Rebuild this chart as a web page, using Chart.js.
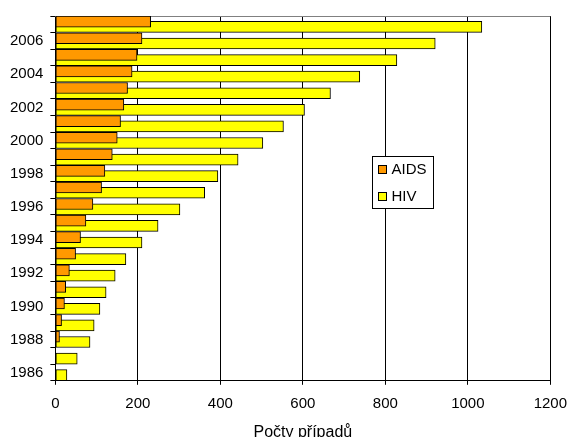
<!DOCTYPE html>
<html>
    <head>
        <title>AIDS / HIV</title>
        <script src="https://cdn.jsdelivr.net/npm/chart.js@4.4.1/dist/chart.umd.min.js"></script>
        <style>
            html, body { margin: 0; padding: 0; overflow: hidden; background: #fff; }
        </style>
    </head>
    <body>
        <!-- slightly bigger than the window: the last tick label and the title get cut like in the original -->
        <canvas id="bar" width="577" height="446"></canvas>
        <script>
        const years = [1986, 1987, 1988, 1989, 1990, 1991, 1992, 1993, 1994, 1995, 1996,
                       1997, 1998, 1999, 2000, 2001, 2002, 2003, 2004, 2005, 2006, 2007];
        const aids = [0, 0, 10, 15, 22, 25, 34, 49, 61, 74, 91,
                      112, 120, 138, 150, 158, 166, 175, 186, 198, 210, 231];
        const hiv = [28, 53, 84, 94, 108, 123, 145, 171, 210, 249, 302,
                     362, 394, 443, 503, 553, 604, 667, 738, 828, 921, 1034];
        const yearLabels = [1986, 1988, 1990, 1992, 1994, 1996, 1998, 2000, 2002, 2004, 2006];
        const xTicks = [0, 200, 400, 600, 800, 1000, 1200];
        const xTitle = 'Počty případů';

        // the two series overlap a little, like the excel original
        const shift = 0.16;
        const font = { family: 'Liberation Sans, Arial, sans-serif', size: 15 };

        // legend box drawn inside the plot
        const boxLegend = {
            id: 'boxLegend',
            beforeDatasetsDraw(chart) {
                const { ctx, chartArea: a } = chart;
                ctx.save();
                ctx.strokeStyle = '#808080';
                ctx.lineWidth = 1;
                ctx.beginPath();
                ctx.moveTo(a.left, Math.round(a.top) + 0.5);
                ctx.lineTo(a.right, Math.round(a.top) + 0.5);
                ctx.stroke();
                ctx.restore();
            },
            afterDraw(chart) {
                const { ctx, chartArea: a } = chart;
                const x = Math.round(a.left + 0.64 * (a.right - a.left)) + 0.5;
                const y = Math.round(a.top + 0.384 * (a.bottom - a.top)) + 0.5;
                ctx.save();
                ctx.fillStyle = '#fff';
                ctx.strokeStyle = '#000';
                ctx.lineWidth = 1;
                ctx.fillRect(x, y, 61, 52);
                ctx.strokeRect(x, y, 61, 52);
                ctx.font = font.size + 'px ' + font.family;
                ctx.textBaseline = 'middle';
                chart.data.datasets.forEach((ds, i) => {
                    const cy = y + 13 + i * 27;
                    ctx.fillStyle = ds.backgroundColor;
                    ctx.fillRect(x + 6, cy - 4, 8, 8);
                    ctx.strokeRect(x + 6, cy - 4, 8, 8);
                    ctx.fillStyle = '#000';
                    ctx.fillText(ds.label, x + 19, cy);
                });
                ctx.restore();
            }
        };

        const chart = new Chart(document.getElementById('bar'), {
            type: 'bar',
            data: {
                datasets: [{
                    label: 'AIDS',
                    data: years.map((y, i) => ({ x: aids[i], y: y + shift })),
                    backgroundColor: '#FF9900',
                    borderColor: '#000',
                    borderWidth: 1,
                    borderSkipped: false
                }, {
                    label: 'HIV',
                    data: years.map((y, i) => ({ x: hiv[i], y: y - shift })),
                    backgroundColor: '#FFFF00',
                    borderColor: '#000',
                    borderWidth: 1,
                    borderSkipped: false
                }]
            },
            options: {
                indexAxis: 'y',
                responsive: false,
                animation: false,
                grouped: false,
                barThickness: 11,
                layout: { padding: { top: 7, left: 3, right: 0, bottom: 0 } },
                plugins: {
                    legend: { display: false },
                    tooltip: { enabled: false }
                },
                scales: {
                    x: {
                        type: 'linear',
                        min: xTicks[0],
                        max: xTicks[xTicks.length - 1],
                        afterBuildTicks: axis => { axis.ticks = xTicks.map(v => ({ value: v })); },
                        ticks: { color: '#000', font: font, padding: 10, callback: v => String(v) },
                        grid: { color: '#000', tickLength: 4 },
                        border: { color: '#000' },
                        title: {
                            display: true,
                            text: xTitle,
                            color: '#000',
                            font: { family: font.family, size: 16 },
                            padding: { top: 0, bottom: 4 }
                        }
                    },
                    y: {
                        type: 'linear',
                        offset: false,
                        min: years[0] - 0.5,
                        max: years[years.length - 1] + 0.5,
                        afterBuildTicks: axis => {
                            axis.ticks = years.map(y => ({ value: y - 0.5 }))
                                .concat([{ value: years[years.length - 1] + 0.5 }]);
                        },
                        ticks: {
                            color: '#000',
                            font: font,
                            padding: 7,
                            autoSkip: false,
                            labelOffset: -8,
                            callback: v => yearLabels.includes(v + 0.5) ? String(v + 0.5) : ''
                        },
                        grid: { offset: false, drawOnChartArea: false, color: '#000', tickLength: 5 },
                        border: { color: '#000' }
                    }
                }
            },
            plugins: [boxLegend]
        });
        </script>
    </body>
</html>
